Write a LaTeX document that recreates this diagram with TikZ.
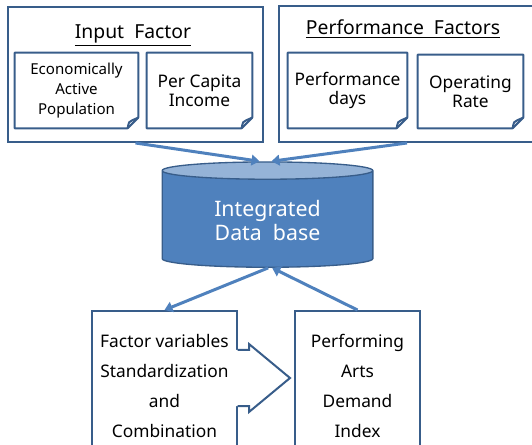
\documentclass[tikz,border=0pt]{standalone}
\usepackage{fontspec}
\setmainfont{Noto Sans}
\usetikzlibrary{shapes.geometric, arrows.meta, calc}

\definecolor{boxblue}{RGB}{56,93,138}
\definecolor{flowblue}{RGB}{79,129,189}
\definecolor{lidblue}{RGB}{149,179,215}

\tikzset{
	factor/.style={draw=boxblue, line width=1.5pt, rectangle, inner sep=0pt},
	title/.style={anchor=base, font=\fontsize{14.5}{17}\selectfont},
	% notes get their dog-ear outline from \dogear
	item/.style={rectangle, inner sep=0pt, align=center, font=\fontsize{13}{14.5}\selectfont},
	stage/.style={draw=boxblue, line width=1.5pt, rectangle, inner sep=0pt, align=center, font=\fontsize{13}{22.5}\selectfont},
	db/.style={cylinder, shape border rotate=90, aspect=0.15, draw=boxblue, line width=1pt,
		cylinder uses custom fill, cylinder body fill=flowblue, cylinder end fill=lidblue,
		text=white, align=center, font=\fontsize{16}{17.5}\selectfont},
}

\newcommand{\dogear}[1]{%
	\draw[boxblue, line width=1.5pt, line join=round] (#1.north west) -- (#1.north east)
		-- ([yshift=8pt]#1.south east) -- ([xshift=-8pt]#1.south east) -- (#1.south west) -- cycle;
	\draw[boxblue, line width=1.5pt, line join=round] ([xshift=-8pt]#1.south east)
		.. controls ([xshift=-7pt,yshift=5pt]#1.south east) .. ([xshift=-4.5pt,yshift=6pt]#1.south east)
		-- ([yshift=8pt]#1.south east);
}

\begin{document}
\begin{tikzpicture}[x=0.75pt, y=-0.75pt]
	\useasboundingbox (0,0) rectangle (532,445);
	\clip (0,0) rectangle (532,445);

	% factor groups
	\node (infac) [factor, minimum width=191.25pt, minimum height=101.25pt] at (135.5,74.5) {};
	\node (perfac) [factor, minimum width=192pt, minimum height=102pt] at (407,74) {};
	\node (tin) [title] at (133,39) {\underline{Input\ \ Factor}};
	\node (tperf) [title] at (403,35) {\underline{Performance\ \ Factors}};

	\node (eap) [item, minimum width=92.25pt, minimum height=56.25pt, font=\fontsize{11.3}{15}\selectfont] at (76.5,90.5)
		{Economically\\Active\\Population};
	\node (pci) [item, minimum width=78.75pt, minimum height=56.25pt] at (199.5,90.5) {Per Capita\\Income};
	\node (pdays) [item, minimum width=89.25pt, minimum height=56.25pt] at (347.5,90.5) {Performance\\days};
	\node (oprate) [item, minimum width=78.75pt, minimum height=54.75pt] at (470.5,91.5) {Operating\\Rate};
	\dogear{eap}
	\dogear{pci}
	\dogear{pdays}
	\dogear{oprate}

	% database
	\node (dbase) [db, minimum width=158pt, minimum height=79pt] at (267.5,220.5) {Integrated\\Data\ \ base};

	% processing steps
	\node (fvs) [stage, minimum width=108.75pt, minimum height=111.75pt] at (164.5,385.5)
		{Factor variables\\Standardization\\and\\Combination};
	\node (padi) [stage, minimum width=93.75pt, minimum height=111.75pt] at (357.5,385.5)
		{Performing\\Arts\\Demand\\Index};

	% block arrow between the steps
	\begin{scope}[shift={(fvs.east)}]
		\fill[white] (-2,-35.5) -- (11,-35.5) -- (11,-41.5) -- (52,-7.5) -- (11,26.5) -- (11,20.5) -- (-2,20.5) -- cycle;
		\draw[boxblue, line width=1.5pt] (-0.5,-35.5) -- (11,-35.5) -- (11,-41.5) -- (52,-7.5) -- (11,26.5) -- (11,20.5) -- (-0.5,20.5);
	\end{scope}

	\begin{scope}[flowblue, line width=2.25pt, -{Triangle[length=6pt, width=8pt]}]
		\draw (infac.south) -- ([xshift=-6pt]dbase.north);
		\draw (perfac.south) -- ([xshift=3pt]dbase.north);
		\draw ([xshift=0.5pt]dbase.south) -- (fvs.north);
		\draw (padi.north) -- ([xshift=3.5pt]dbase.south);
	\end{scope}
\end{tikzpicture}
\end{document}
